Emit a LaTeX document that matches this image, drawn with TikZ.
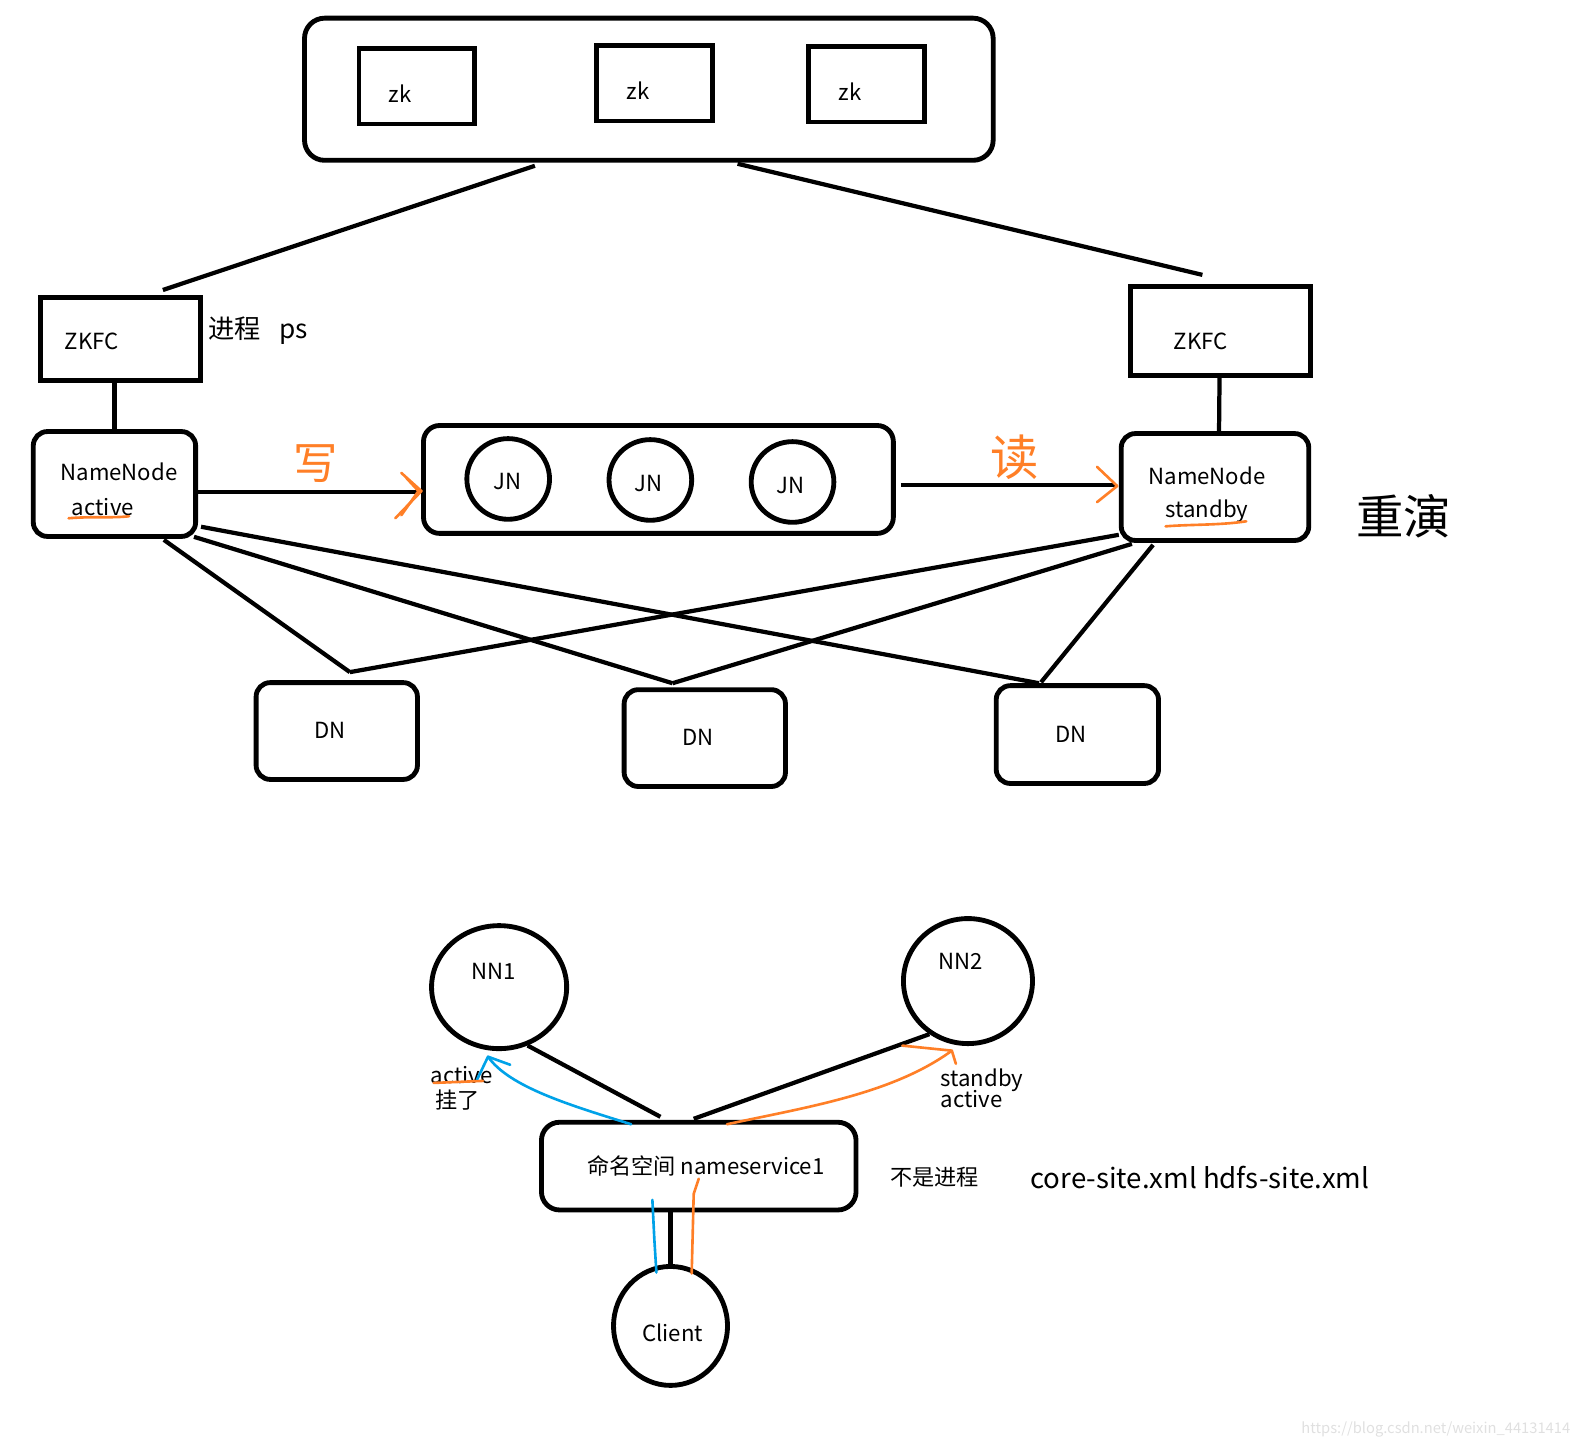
\documentclass[tikz,border=0pt]{standalone}
\usepackage{fontspec}
\setmainfont{Noto Sans CJK SC}
\usetikzlibrary{calc,shapes.geometric}
\definecolor{handorange}{HTML}{FF7F27}
\definecolor{handblue}{HTML}{00A2E8}
\begin{document}
\begin{tikzpicture}[x=0.5pt,y=-0.5pt,
  sq/.style={draw, line width=2.4pt, inner sep=0pt, rectangle},
  rr/.style={sq, rounded corners=8pt},
  circ/.style={draw, line width=2.4pt, inner sep=0pt, ellipse},
  wire/.style={line width=2.1pt},
  hand/.style={line width=1.3pt, draw=handorange, line cap=round, line join=round},
  handb/.style={line width=1.3pt, draw=handblue, line cap=round, line join=round},
  t/.style={font=\fontsize{11}{12.5}\selectfont, inner sep=0pt},
  tbig/.style={font=\fontsize{13}{15}\selectfont, inner sep=0pt}
]
\useasboundingbox (0,0) rectangle (1568,1437);

% ---- ZooKeeper cluster ----
\node[rr, rounded corners=10pt, minimum width=341.5pt, minimum height=70.5pt] (top) at (643.5,88.5) {};
\node[sq, minimum width=57.5pt, minimum height=37.5pt] (zk1) at (413.5,85.5) {};
\node[sq, minimum width=57.5pt, minimum height=37.5pt] (zk2) at (649.5,82.5) {};
\node[sq, minimum width=57.5pt, minimum height=37.5pt] (zk3) at (859.5,83.5) {};
\node[t] (zk1t) at (397,93) {zk};
\node[t] (zk2t) at (633,90) {zk};
\node[t] (zk3t) at (843,91) {zk};

% ---- ZKFC ----
\node[sq, minimum width=79.5pt, minimum height=41pt] (zkL) at (119.5,336) {};
\node[sq, minimum width=89.5pt, minimum height=44pt] (zkR) at (1210.5,328) {};
\node[t] (zkLt) at (91,339) {ZKFC};
\node[t] (zkRt) at (1191,339) {ZKFC};
\node[tbig] (ps) at (256,328) {进程\hspace{0.7em}ps};

% ---- NameNodes ----
\node[rr, rounded corners=7pt, minimum width=80.5pt, minimum height=52pt] (nnA) at (113.5,480) {};
\node[rr, rounded corners=7pt, minimum width=93pt, minimum height=53pt] (nnB) at (1205,483) {};
\node[t] (nnAt) at (118,468) {NameNode};
\node[t] (nnAs) at (102,503) {active};
\node[t] (nnBt) at (1197,472) {NameNode};
\node[t] (nnBs) at (1197,507) {standby};
\node[font=\fontsize{23.5}{25}\selectfont, inner sep=0pt] (cy) at (1392,512) {重演};

% ---- JournalNodes ----
\node[rr, rounded corners=8pt, minimum width=233pt, minimum height=53.5pt] (jn) at (653,475.5) {};
\node[circ, minimum width=41pt, minimum height=40pt] (jn1) at (504,475) {};
\node[circ, minimum width=41pt, minimum height=40pt] (jn2) at (645,476) {};
\node[circ, minimum width=41pt, minimum height=40pt] (jn3) at (786,478) {};
\node[t] (jn1t) at (503,478) {JN};
\node[t] (jn2t) at (643,480) {JN};
\node[t] (jn3t) at (784,482) {JN};

% ---- DataNodes ----
\node[rr, rounded corners=7pt, minimum width=80pt, minimum height=48pt] (dn1) at (334,725) {};
\node[rr, rounded corners=7pt, minimum width=80pt, minimum height=48pt] (dn2) at (699,732) {};
\node[rr, rounded corners=7pt, minimum width=80.5pt, minimum height=48.5pt] (dn3) at (1068.5,728.5) {};
\node[t] (dn1t) at (327,724) {DN};
\node[t] (dn2t) at (692,731) {DN};
\node[t] (dn3t) at (1062,728) {DN};

% ---- connectors (upper part) ----
\draw[wire] ($(top.south)+(-113,3)$) -- ($(zkL.north)+(42,-5)$);
\draw[wire] ($(top.south)+(88,1)$) -- ($(zkR.north)+(-18,-9)$);
\draw[wire] ($(zkL.south)+(-6,0)$) -- (nnA.north);
\draw[wire] ($(zkR.south)+(-1,0)$) -- ($(nnB.north)+(4,0)$);
\draw[wire] ($(nnA.east)+(0,8)$) -- ($(jn.west)+(-2,12.5)$);
\draw[wire] ($(jn.east)+(5,5.5)$) -- ($(nnB.west)+(-3,-2)$);

\draw[wire] ($(nnA.south)+(49,1)$) -- ($(dn1.north)+(13,-8)$);
\draw[wire] ($(nnA.south east)+(-4,-2)$) -- ($(dn2.north)+(-32,-4)$);
\draw[wire] ($(nnA.south east)+(3,-12)$) -- ($(dn3.north)+(-38,0)$);
\draw[wire] ($(nnB.south west)+(0,-8)$) -- ($(dn1.north)+(13,-8)$);
\draw[wire] ($(nnB.south west)+(13,1)$) -- ($(dn2.north)+(-32,-4)$);
\draw[wire] ($(nnB.south west)+(34,2)$) -- ($(dn3.north)+(-36,-1)$);

% orange handwriting
\node[text=handorange, font=\fontsize{22}{22}\selectfont, inner sep=0pt] (wr) at (313,460) {写};
\node[text=handorange, font=\fontsize{24}{24}\selectfont, inner sep=0pt] (rd) at (1006,453) {读};
\draw[hand] (398,469) -- (418,487) -- (392,514);
\draw[hand] (403,474) -- (415,487) -- (398,511);
\draw[hand] (1088,463) -- (1108,482) -- (1088,498);
\draw[hand] (68,514) .. controls (90,512) and (110,514) .. (128,512);
\draw[hand] (1156,522) .. controls (1180,520) and (1210,521) .. (1236,517);

% ---- lower part ----
\node[circ, minimum width=67pt, minimum height=61pt] (nn1) at (495,979) {};
\node[circ, minimum width=64pt, minimum height=62pt] (nn2) at (960,973) {};
\node[circ, minimum width=56.5pt, minimum height=59pt] (cl) at (665,1315) {};
\node[rr, rounded corners=9pt, minimum width=156pt, minimum height=43.5pt] (ns) at (693,1156.5) {};
\node[t] (nn1t) at (490,963) {NN1};
\node[t] (nn2t) at (953,953) {NN2};
\node[t] (clt) at (667,1322) {Client};
\node[t] (nst) at (700,1156) {命名空间 nameservice1};
\node[t] (act1) at (458,1066) {active};
\node[t] (gl) at (454,1091) {挂了};
\node[t, align=left] (sa) at (974,1079) {standby\\[-2pt]active};
\node[t] (bsjc) at (927,1168) {不是进程};
\node[font=\fontsize{13.7}{15}\selectfont, inner sep=0pt] (cfg) at (1190,1168) {core-site.xml hdfs-site.xml};

\draw[wire] (nn1.-64) -- ($(ns.north)+(-38,-3)$);
\draw[wire] (nn2.-126) -- ($(ns.north)+(-5,-1)$);
\draw[wire] ($(ns.south)+(-28,0)$) -- (cl.north);

% blue / orange pen strokes
\draw[handb] (626,1115) .. controls (565,1096) and (505,1078) .. (484,1048);
\draw[handb] (473,1071) -- (484,1048) -- (506,1056);
\draw[handb] (647,1190) -- (649,1230) -- (651,1262);
\draw[hand] (693,1169) -- (688,1184) -- (686,1263);
\draw[hand] (721,1115) .. controls (800,1098) and (885,1085) .. (944,1042);
\draw[hand] (895,1037) -- (944,1042) -- (948,1055);
\draw[hand] (430,1074) -- (479,1072);

% watermark
\node[text=black!12, font=\fontsize{7.3}{8}\selectfont, inner sep=0pt] (wm) at (1424,1418) {https://blog.csdn.net/weixin\_44131414};
\end{tikzpicture}
\end{document}
